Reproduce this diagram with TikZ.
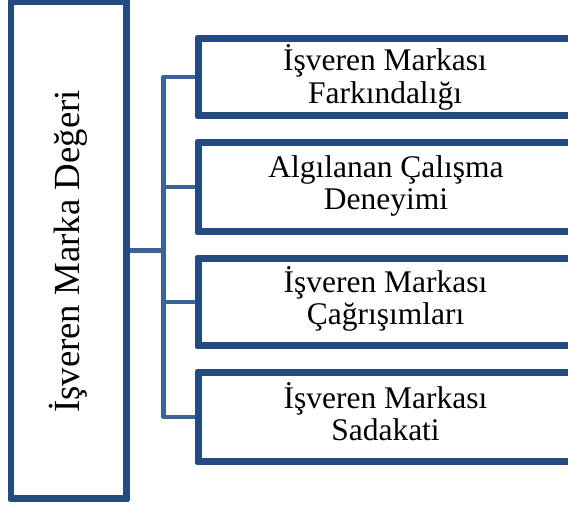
\documentclass[tikz,border=0pt]{standalone}
\usepackage{fontspec}
\setmainfont{Liberation Serif}
\definecolor{boxblue}{RGB}{36,75,127}
\definecolor{linkblue}{RGB}{60,99,150}
\tikzset{
  mainbox/.style={draw=boxblue, line width=4.5pt, line join=round, fill=white,
    inner sep=0pt, minimum width=113.5pt, minimum height=494pt},
  itembox/.style={draw=boxblue, line width=4.5pt, line join=round, fill=white,
    inner sep=0pt, minimum width=372pt},
  itemtext/.style={inner sep=0pt, align=center,
    font=\fontsize{31.5pt}{32.7pt}\selectfont},
  conn/.style={draw=linkblue, line width=4.6pt, line join=round},
}
\newcommand{\tstrut}{\rule{0pt}{0.9em}}
\newcommand{\bstrut}{\rule[-0.25em]{0pt}{0pt}}
\begin{document}
\begin{tikzpicture}[x=1pt, y=-1pt]
  \useasboundingbox (0,0) rectangle (568,504);
  \clip (0,0) rectangle (568,504);

  % main concept
  \node[mainbox] (L) at (68.75,250) {};
  \node[inner sep=0pt, rotate=90, font=\fontsize{36.8pt}{40pt}\selectfont]
    (Lt) at (68.75,251.5) {İşveren Marka Değeri};

  % dimension boxes
  \node[itembox, minimum height=75pt] (b1) at (385.5,77) {};
  \node[itembox, minimum height=87pt] (b2) at (385.5,187) {};
  \node[itembox, minimum height=85pt] (b3) at (385.5,302) {};
  \node[itembox, minimum height=87pt] (b4) at (385.5,417) {};

  \node[itemtext] (t1) at (385,76.8) {\tstrut İşveren Markası\\Farkındalığı\bstrut};
  \node[itemtext] (t2) at (386,183.4) {\tstrut Algılanan Çalışma\\Deneyimi\bstrut};
  \node[itemtext] (t3) at (385.5,298.4) {\tstrut İşveren Markası\\Çağrışımları\bstrut};
  \node[itemtext] (t4) at (385.5,414.4) {\tstrut İşveren Markası\\Sadakati\bstrut};

  % tree connectors
  \coordinate (spine) at (163.5,250.5);
  \draw[conn] (b1.west) -- (b1.west -| spine) |- (b4.west);
  \draw[conn] (b2.west) -- (b2.west -| spine);
  \draw[conn] (b3.west) -- (b3.west -| spine);
  \draw[conn] (L.east |- spine) -- (spine);

  % redraw box outlines over the connector ends
  \foreach \b in {b1,b2,b3,b4} {
    \draw[boxblue, line width=4.5pt, line join=round]
      (\b.north west) rectangle (\b.south east);
  }
  \draw[boxblue, line width=4.5pt, line join=round]
    (L.north west) rectangle (L.south east);
\end{tikzpicture}
\end{document}
